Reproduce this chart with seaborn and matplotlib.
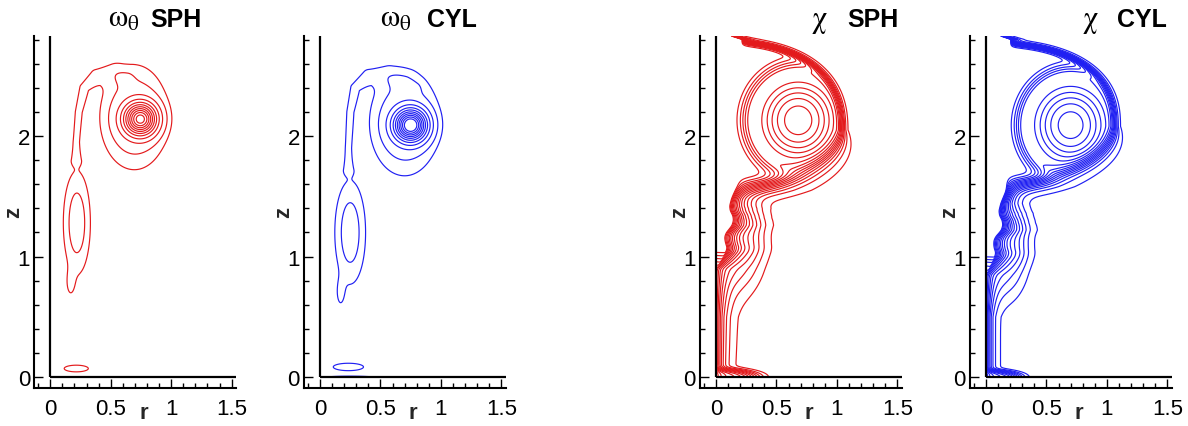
import numpy as np
import matplotlib
matplotlib.use("Agg")
import matplotlib.pyplot as plt
from matplotlib.ticker import MultipleLocator, FixedLocator
import seaborn as sns

# ---------------- figure / layout ----------------
FIG_W_PX, FIG_H_PX, DPI = 1188, 427, 100
PANEL_LEFT_PX = [34.3, 304.0, 700.0, 970.0]
PANEL_BOTTOM_PX = 389.3
PANEL_W_PX = 201.7
PANEL_H_PX = 352.4

# ---------------- axes ----------------
R_MAX = 1.536
Z_MAX = 2.83
X_LIM = [-0.132, 1.536]
Y_LIM = [-0.092, 2.83]
X_TICKS = [0, 0.5, 1, 1.5]
X_TICK_LABELS = ["0", "0.5", "1", "1.5"]
Y_TICKS = [0, 1, 2]
Y_TICK_LABELS = ["0", "1", "2"]

TITLE_GREEK = [r"$\omega_\theta$", r"$\omega_\theta$", r"$\chi$", r"$\chi$"]
TITLE_WORD = ["SPH", "CYL", "SPH", "CYL"]
TITLE_GREEK_X_PX = [108, 380, 811, 1082]
TITLE_WORD_X_PX = [150, 427, 847, 1117]
LINE_COLORS = ["#e31a1c", "#2020f2", "#e31a1c", "#2020f2"]

# ---------------- contour levels ----------------
W_LEVELS = [0.25, 0.6, 1.3, 2.2, 3.2, 4.2, 5.2, 6.2, 7.2, 8.2, 9.2]
CHI_LEVELS = [0.04, 0.10, 0.16, 0.22, 0.28, 0.34, 0.40, 0.46, 0.52,
              0.58, 0.64, 0.70, 0.76, 0.82, 0.88, 0.94]

# ---------------- omega_theta, SPH ----------------
# blobs: (r0, z0, sigma_r, sigma_z, amplitude, exponent)
W_SPH_CORE = [0.745, 2.14, 0.12, 0.12, 9.0, 1.0]
W_SPH_ENVELOPE = [0.695, 2.155, 0.262, 0.40, 0.9, 1.5]
W_SPH_TAIL_BLOB = [0.22, 1.28, 0.11, 0.42, 0.72, 1.6]
W_SPH_TIP_BLOB = [0.168, 0.78, 0.04, 0.12, 0.35, 1.0]
W_SPH_WALL_BLOB = [0.215, 0.072, 0.13, 0.036, 0.45, 1.0]
# arm ridge: polyline (r, z, width), amplitude
W_SPH_ARM_R = [0.215, 0.215, 0.235, 0.28, 0.38, 0.52, 0.62]
W_SPH_ARM_Z = [1.80, 1.95, 2.20, 2.40, 2.50, 2.52, 2.48]
W_SPH_ARM_W = [0.055, 0.05, 0.055, 0.07, 0.09, 0.09, 0.07]
W_SPH_ARM_AMP = 0.32

# ---------------- omega_theta, CYL ----------------
W_CYL_CORE = [0.75, 2.09, 0.12, 0.12, 10.0, 1.0]
W_CYL_ENVELOPE = [0.70, 2.11, 0.267, 0.405, 0.9, 1.5]
W_CYL_TAIL_BLOB = [0.25, 1.20, 0.125, 0.42, 0.72, 1.6]
W_CYL_TIP_BLOB = [0.17, 0.70, 0.04, 0.13, 0.35, 1.0]
W_CYL_WALL_BLOB = [0.235, 0.085, 0.163, 0.04, 0.45, 1.0]
W_CYL_FLOOR_BLOB = [0.25, 0.0, 0.28, 0.012, 0.4, 1.0]
W_CYL_ARM_R = [0.235, 0.235, 0.25, 0.29, 0.40, 0.55, 0.70, 0.78]
W_CYL_ARM_Z = [1.72, 1.90, 2.20, 2.40, 2.50, 2.50, 2.45, 2.40]
W_CYL_ARM_W = [0.055, 0.05, 0.055, 0.07, 0.09, 0.09, 0.07, 0.055]
W_CYL_ARM_AMP = 0.32

# ---------------- chi, SPH ----------------
# cap: (z_centre, a_r, b_top, b_bottom, sharpness_top, sharpness_bottom, shape exponent)
CHI_SPH_CAP = [2.05, 1.045, 0.735, 0.50, 0.016, 0.08, 2.4]
CHI_SPH_TAIL_Z = [0.00, 0.50, 0.90, 0.98, 1.06, 1.12, 1.18, 1.26, 1.32, 1.40, 1.48, 1.60, 1.90, 2.83]
CHI_SPH_TAIL_A = [0.58, 0.58, 0.62, 0.80, 1.00, 1.20, 1.40, 1.60, 1.60, 1.60, 1.60, 1.60, 1.60, 1.60]
CHI_SPH_TAIL_R0 = [0.00, 0.00, 0.00, 0.05, 0.09, 0.05, 0.03, 0.08, 0.10, 0.06, 0.09, 0.15, 0.17, 0.20]
CHI_SPH_TAIL_W = [0.06, 0.068, 0.10, 0.10, 0.10, 0.10, 0.10, 0.10, 0.09, 0.09, 0.07, 0.05, 0.03, 0.03]
CHI_SPH_FLARE = [0.0, 0.0, 0.34, 0.07, 0.58, 2.0]
CHI_SPH_HALO = [0.20, 1.15, 0.20, 0.40, 0.17, 1.5]
# vortex annulus: (r_c, z_c, a_r, a_z, amplitude, inner width, outer width)
CHI_SPH_ANNULUS = [0.68, 2.13, 0.38, 0.40, 0.35, 0.53, 0.25]

# ---------------- chi, CYL ----------------
CHI_CYL_CAP = [2.08, 1.065, 0.69, 0.50, 0.016, 0.07, 2.4]
CHI_CYL_TAIL_Z = [0.00, 0.50, 0.85, 0.95, 1.02, 1.08, 1.15, 1.22, 1.28, 1.36, 1.44, 1.55, 1.90, 2.83]
CHI_CYL_TAIL_A = [0.58, 0.58, 0.62, 0.80, 1.00, 1.20, 1.40, 1.60, 1.60, 1.60, 1.60, 1.60, 1.60, 1.60]
CHI_CYL_TAIL_R0 = [0.00, 0.00, 0.00, 0.05, 0.08, 0.04, 0.03, 0.08, 0.10, 0.06, 0.09, 0.14, 0.16, 0.19]
CHI_CYL_TAIL_W = [0.045, 0.045, 0.08, 0.09, 0.09, 0.09, 0.09, 0.09, 0.08, 0.08, 0.06, 0.05, 0.03, 0.03]
CHI_CYL_FLARE = [0.0, 0.0, 0.28, 0.06, 0.58, 2.0]
CHI_CYL_HALO = [0.18, 1.10, 0.17, 0.40, 0.17, 1.5]
CHI_CYL_ANNULUS = [0.70, 2.09, 0.38, 0.41, 0.35, 0.55, 0.22]

# ---------------- helpers ----------------
r_grid = np.linspace(0.0, R_MAX, 420)
z_grid = np.linspace(0.0, Z_MAX, 780)
R, Z = np.meshgrid(r_grid, z_grid)


def blob(c):
    r0, z0, sr, sz, amp, p = c
    q = ((R - r0) / sr) ** 2 + ((Z - z0) / sz) ** 2
    return amp * np.exp(-q ** p)


def ridge(rs, zs, ws, amp):
    out = np.zeros_like(R)
    for i in range(len(rs) - 1):
        dr, dz = rs[i + 1] - rs[i], zs[i + 1] - zs[i]
        t = np.clip(((R - rs[i]) * dr + (Z - zs[i]) * dz) / (dr * dr + dz * dz), 0, 1)
        d2 = (R - rs[i] - t * dr) ** 2 + (Z - zs[i] - t * dz) ** 2
        w = ws[i] + (ws[i + 1] - ws[i]) * t
        out = np.maximum(out, np.exp(-d2 / w ** 2))
    return amp * out


def annulus(c):
    rc, zc, ar, az, amp, w_in, w_out = c
    rho = np.sqrt(((R - rc) / ar) ** 2 + ((Z - zc) / az) ** 2)
    w = np.where(rho < 1.0, w_in, w_out)
    return amp * np.exp(-((rho - 1.0) / w) ** 2)


def omega_field(blobs, arm):
    f = ridge(*arm)
    for b in blobs:
        f = f + blob(b)
    return f


def chi_field(cap, tz, ta, tr0, tw, flare, halo, ann):
    zc, a, bt, bb, wt, wb, n = cap
    b = np.where(Z >= zc, bt, bb)
    nn = np.where(Z >= zc, n, 2.0)
    e = ((R / a) ** nn + (np.abs(Z - zc) / b) ** nn) ** (1.0 / nn)
    s = np.clip((zc - Z) / bb, 0, 1)
    w = wt + (wb - wt) * s
    U = 1.0 / (1.0 + np.exp(np.clip((e - 1.0) / w, -60, 60)))
    zf = np.linspace(0, Z_MAX, 400)
    A = np.interp(Z, tz, ta)
    r0 = np.interp(Z, zf, np.convolve(np.interp(zf, tz, tr0), np.ones(9) / 9, mode="same"))
    W = np.interp(Z, tz, tw)
    T = np.minimum(A * np.exp(-np.maximum(R - r0, 0) / W), 1.0)
    for extra in (blob(flare), blob(halo)):
        T = 1 - (1 - T) * (1 - extra)
    X = 1 - (1 - U) * (1 - T)
    return X * (1 - annulus(ann))


fields = [
    (omega_field([W_SPH_CORE, W_SPH_ENVELOPE, W_SPH_TAIL_BLOB, W_SPH_TIP_BLOB, W_SPH_WALL_BLOB],
                 (W_SPH_ARM_R, W_SPH_ARM_Z, W_SPH_ARM_W, W_SPH_ARM_AMP)), W_LEVELS),
    (omega_field([W_CYL_CORE, W_CYL_ENVELOPE, W_CYL_TAIL_BLOB, W_CYL_TIP_BLOB,
                  W_CYL_WALL_BLOB, W_CYL_FLOOR_BLOB],
                 (W_CYL_ARM_R, W_CYL_ARM_Z, W_CYL_ARM_W, W_CYL_ARM_AMP)), W_LEVELS),
    (chi_field(CHI_SPH_CAP, CHI_SPH_TAIL_Z, CHI_SPH_TAIL_A, CHI_SPH_TAIL_R0,
               CHI_SPH_TAIL_W, CHI_SPH_FLARE, CHI_SPH_HALO, CHI_SPH_ANNULUS), CHI_LEVELS),
    (chi_field(CHI_CYL_CAP, CHI_CYL_TAIL_Z, CHI_CYL_TAIL_A, CHI_CYL_TAIL_R0,
               CHI_CYL_TAIL_W, CHI_CYL_FLARE, CHI_CYL_HALO, CHI_CYL_ANNULUS), CHI_LEVELS),
]

# ---------------- style ----------------
sns.set_style("ticks")
plt.rcParams["font.family"] = ["Liberation Sans", "DejaVu Sans"]
plt.rcParams["mathtext.fontset"] = "stix"
plt.rcParams["mathtext.default"] = "rm"

fig = plt.figure(figsize=(FIG_W_PX / DPI, FIG_H_PX / DPI), dpi=DPI)
fig.patch.set_facecolor("white")

for i, (field, levels) in enumerate(fields):
    ax = fig.add_axes([PANEL_LEFT_PX[i] / FIG_W_PX,
                       1 - PANEL_BOTTOM_PX / FIG_H_PX,
                       PANEL_W_PX / FIG_W_PX,
                       PANEL_H_PX / FIG_H_PX])
    ax.set_facecolor("white")
    ax.contour(r_grid, z_grid, field, levels=levels, colors=LINE_COLORS[i],
               linewidths=0.85)
    ax.plot([0, 0], [0, Z_MAX], color="black", lw=1.6, solid_capstyle="butt")
    ax.plot([0, R_MAX], [0, 0], color="black", lw=1.6, solid_capstyle="butt")
    ax.set_xlim(X_LIM)
    ax.set_ylim(Y_LIM)
    sns.despine(ax=ax, top=True, right=True)
    for sp in ("left", "bottom"):
        ax.spines[sp].set_linewidth(1.5)
        ax.spines[sp].set_color("black")
    ax.xaxis.set_major_locator(FixedLocator(X_TICKS))
    ax.set_xticklabels(X_TICK_LABELS)
    ax.yaxis.set_major_locator(FixedLocator(Y_TICKS))
    ax.set_yticklabels(Y_TICK_LABELS)
    ax.xaxis.set_minor_locator(MultipleLocator(0.1))
    ax.yaxis.set_minor_locator(MultipleLocator(0.2))
    ax.tick_params(which="both", direction="in", color="black", width=1.0,
                   labelsize=16, labelcolor="black")
    ax.tick_params(which="major", length=6.5)
    ax.tick_params(which="minor", length=3.5)
    ax.tick_params(axis="x", which="major", pad=7)
    ax.tick_params(axis="y", which="major", pad=3)
    ax.text(0.77, -0.205, "r", fontsize=16, fontweight="bold", ha="center",
            va="top", transform=ax.transData, clip_on=False)
    ax.text(-0.3, 1.37, "z", fontsize=16, fontweight="bold", ha="center",
            va="center", rotation=90, transform=ax.transData, clip_on=False)
    ax.grid(False)

    fig.text(TITLE_GREEK_X_PX[i] / FIG_W_PX, 1 - 27 / FIG_H_PX, TITLE_GREEK[i],
             fontsize=22, ha="left", va="baseline", color="black")
    fig.text(TITLE_WORD_X_PX[i] / FIG_W_PX, 1 - 27 / FIG_H_PX, TITLE_WORD[i],
             fontsize=18, fontweight="bold", ha="left", va="baseline", color="black")

fig.savefig("out.png", dpi=DPI, facecolor="white")
